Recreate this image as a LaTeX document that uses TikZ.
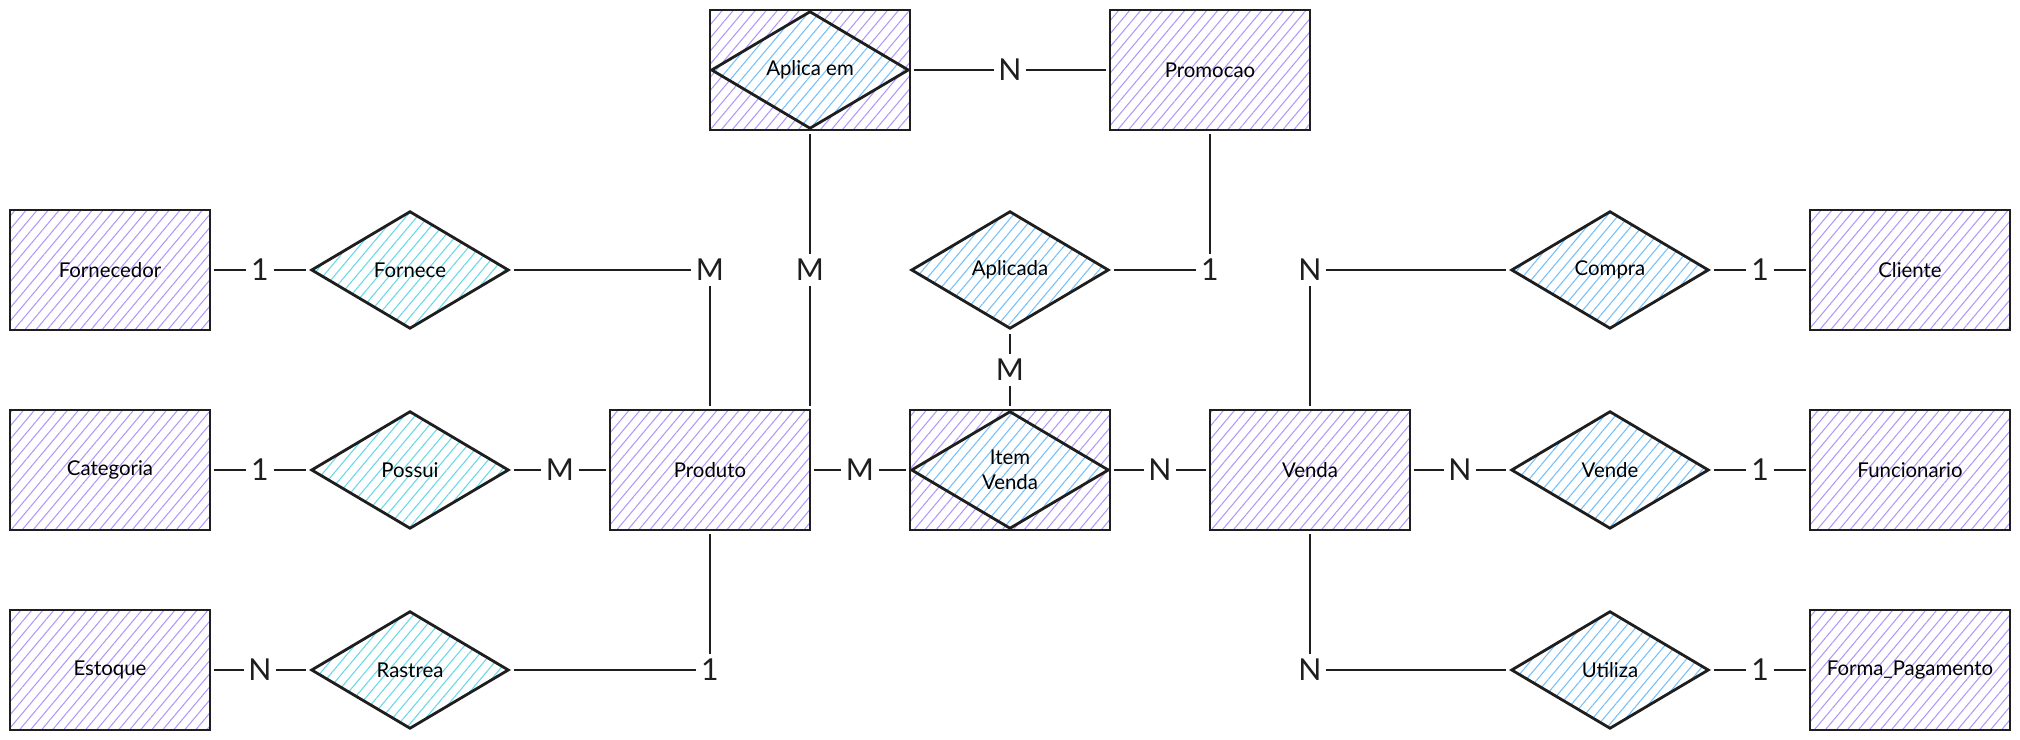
\documentclass[tikz,border=0pt]{standalone}
\usepackage{fontspec}
\usetikzlibrary{shapes.geometric,patterns.meta}
\newfontfamily\entfont{Lato}
\newfontfamily\relfont{Lato}
\definecolor{entpurple}{RGB}{177,151,252}
\definecolor{relcyan}{RGB}{102,217,232}
\definecolor{relblue}{RGB}{116,192,252}
\definecolor{inkc}{RGB}{30,30,30}
\tikzset{
  entity/.style={draw=inkc, line width=0.8pt, rectangle, minimum width=2cm, minimum height=1.2cm,
    inner sep=0pt, outer sep=1.2pt, font=\entfont\fontsize{5.8}{7}\selectfont,
    pattern={Lines[angle=50,distance=2.4pt,line width=0.3pt]}, pattern color=entpurple},
  relbase/.style={draw=inkc, line width=0.8pt, diamond, minimum width=2cm, minimum height=1.2cm,
    inner sep=0pt, outer sep=1.2pt, align=center, font=\relfont\fontsize{5.8}{7}\selectfont,
    preaction={fill=white}},
  relc/.style={relbase, pattern={Lines[angle=50,distance=2.4pt,line width=0.3pt]}, pattern color=relcyan},
  relb/.style={relbase, pattern={Lines[angle=50,distance=2.4pt,line width=0.3pt]}, pattern color=relblue},
  card/.style={inner sep=1.2pt, font=\entfont\fontsize{8.6}{9}\selectfont, text=inkc},
  conn/.style={draw=inkc, line width=0.75pt},
}
\begin{document}
\begin{tikzpicture}
\useasboundingbox (0,0) rectangle (20.2,-7.4);
% entities
\node[entity] (forn) at (1.1,-2.7) {Fornecedor};
\node[entity] (cat) at (1.1,-4.7) {Categoria};
\node[entity] (est) at (1.1,-6.7) {Estoque};
\node[entity] (prod) at (7.1,-4.7) {Produto};
\node[entity] (aplica) at (8.1,-0.7) {};
\node[relb] (aplicaD) at (8.1,-0.7) {Aplica em};
\node[entity] (promo) at (12.1,-0.7) {Promocao};
\node[entity] (item) at (10.1,-4.7) {};
\node[relb] (itemD) at (10.1,-4.7) {Item\\Venda};
\node[entity] (venda) at (13.1,-4.7) {Venda};
\node[entity] (cliente) at (19.1,-2.7) {Cliente};
\node[entity] (func) at (19.1,-4.7) {Funcionario};
\node[entity] (forma) at (19.1,-6.7) {Forma\_Pagamento};
% relationships
\node[relc] (fornece) at (4.1,-2.7) {Fornece};
\node[relc] (possui) at (4.1,-4.7) {Possui};
\node[relc] (rastrea) at (4.1,-6.7) {Rastrea};
\node[relb] (aplicada) at (10.1,-2.7) {Aplicada};
\node[relb] (compra) at (16.1,-2.7) {Compra};
\node[relb] (vende) at (16.1,-4.7) {Vende};
\node[relb] (utiliza) at (16.1,-6.7) {Utiliza};
% cardinality labels
\node[card] (c1) at (2.6,-2.7) {1};
\node[card] (c2) at (2.6,-4.7) {1};
\node[card] (c3) at (2.6,-6.7) {N};
\node[card] (c4) at (7.1,-2.7) {M};
\node[card] (c5) at (8.1,-2.7) {M};
\node[card] (c6) at (5.6,-4.7) {M};
\node[card] (c7) at (7.1,-6.7) {1};
\node[card] (c8) at (10.1,-0.7) {N};
\node[card] (c9) at (12.1,-2.7) {1};
\node[card] (c10) at (10.1,-3.7) {M};
\node[card] (c11) at (8.6,-4.7) {M};
\node[card] (c12) at (11.6,-4.7) {N};
\node[card] (c13) at (13.1,-2.7) {N};
\node[card] (c14) at (14.6,-4.7) {N};
\node[card] (c15) at (13.1,-6.7) {N};
\node[card] (c16) at (17.6,-2.7) {1};
\node[card] (c17) at (17.6,-4.7) {1};
\node[card] (c18) at (17.6,-6.7) {1};
% connectors
\draw[conn] (forn) -- (c1) -- (fornece);
\draw[conn] (cat) -- (c2) -- (possui);
\draw[conn] (est) -- (c3) -- (rastrea);
\draw[conn] (fornece) -- (c4) -- (prod);
\draw[conn] (aplica) -- (c5) -- (c5 |- prod.north);
\draw[conn] (possui) -- (c6) -- (prod);
\draw[conn] (rastrea) -- (c7) -- (prod);
\draw[conn] (aplica) -- (c8) -- (promo);
\draw[conn] (promo) -- (c9) -- (aplicada);
\draw[conn] (aplicada) -- (c10) -- (item);
\draw[conn] (prod) -- (c11) -- (item);
\draw[conn] (item) -- (c12) -- (venda);
\draw[conn] (venda) -- (c13) -- (compra);
\draw[conn] (venda) -- (c14) -- (vende);
\draw[conn] (venda) -- (c15) -- (utiliza);
\draw[conn] (compra) -- (c16) -- (cliente);
\draw[conn] (vende) -- (c17) -- (func);
\draw[conn] (utiliza) -- (c18) -- (forma);
\end{tikzpicture}
\end{document}
